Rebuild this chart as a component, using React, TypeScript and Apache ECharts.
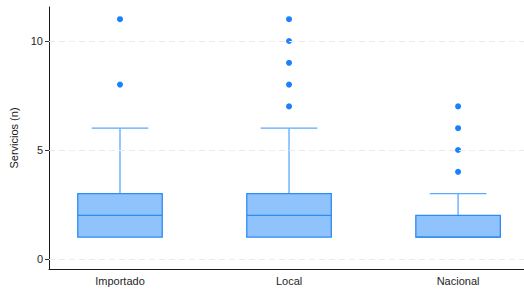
import React, { useEffect, useRef } from "react";
import * as echarts from "echarts";

const categories = ["Importado", "Local", "Nacional"];
const lowerWhisker = [1, 1, 1];
const q1 = [1, 1, 1];
const median = [2, 2, 1];
const q3 = [3, 3, 2];
const upperWhisker = [6, 6, 3];
const importadoOutliers = [8, 11];
const localOutliers = [7, 8, 9, 10, 11];
const nacionalOutliers = [4, 5, 6, 7];
const yTicks = [0, 5, 10];
const yAxisTitle = "Servicios (n)";

export default function App() {
  const ref = useRef<HTMLDivElement>(null);
  useEffect(() => {
    if (!ref.current) return;
    const chart = echarts.init(ref.current, null, { renderer: "svg" });
    const boxData = categories.map((_, i) => [
      i + 1,
      lowerWhisker[i],
      q1[i],
      median[i],
      q3[i],
      upperWhisker[i],
    ]);
    const outlierData: number[][] = [];
    [importadoOutliers, localOutliers, nacionalOutliers].forEach((arr, i) =>
      arr.forEach((v) => outlierData.push([i + 1, v]))
    );
    const font = "'Liberation Sans', Arial, sans-serif";
    chart.setOption({
      animation: false,
      backgroundColor: "#ffffff",
      grid: { left: 49, right: 0, top: 7, bottom: 22 },
      xAxis: {
        type: "value",
        min: 0.58,
        max: 3.39,
        axisLine: { show: true, onZero: false, lineStyle: { color: "#1a1a1a", width: 1 } },
        axisTick: { show: false },
        splitLine: { show: false },
        axisLabel: {
          customValues: [1, 2, 3],
          formatter: (v: number) => categories[Math.round(v) - 1] ?? "",
          color: "#262626",
          fontSize: 11,
          fontFamily: font,
          margin: 6,
        },
      },
      yAxis: {
        type: "value",
        min: -0.46,
        max: 11.56,
        name: yAxisTitle,
        nameLocation: "middle",
        nameGap: 28,
        nameTextStyle: { color: "#1a1a1a", fontSize: 11, fontFamily: font },
        axisLine: { show: true, onZero: false, lineStyle: { color: "#1a1a1a", width: 1 } },
        axisTick: { show: true, customValues: yTicks, length: 4, lineStyle: { color: "#333333" } },
        splitLine: { show: false },
        axisLabel: {
          customValues: yTicks,
          color: "#262626",
          fontSize: 11,
          fontFamily: font,
          margin: 6,
        },
      },
      series: [
        {
          type: "line",
          data: [],
          z: 1,
          silent: true,
          markLine: {
            silent: true,
            symbol: "none",
            label: { show: false },
            lineStyle: { color: "#ebebeb", type: [6, 4], width: 1, opacity: 1 },
            data: yTicks.map((v) => ({ yAxis: v })),
          },
        },
        {
          type: "custom",
          z: 2,
          data: boxData,
          renderItem: (params: any, api: any) => {
            const x = api.value(0);
            const lo = api.value(1);
            const b1 = api.value(2);
            const md = api.value(3);
            const b3 = api.value(4);
            const hi = api.value(5);
            const boxW = api.size([0.5, 0])[0];
            const capW = api.size([0.335, 0])[0];
            const pLo = api.coord([x, lo]);
            const p1 = api.coord([x, b1]);
            const pm = api.coord([x, md]);
            const p3 = api.coord([x, b3]);
            const pHi = api.coord([x, hi]);
            const whiskerStyle = { stroke: "#5aa8ff", lineWidth: 1.3 };
            const borderStyle = { stroke: "#2f8cf5", lineWidth: 1.3 };
            return {
              type: "group",
              children: [
                { type: "line", shape: { x1: p3[0], y1: p3[1], x2: pHi[0], y2: pHi[1] }, style: whiskerStyle },
                { type: "line", shape: { x1: pHi[0] - capW / 2, y1: pHi[1], x2: pHi[0] + capW / 2, y2: pHi[1] }, style: whiskerStyle },
                { type: "line", shape: { x1: p1[0], y1: p1[1], x2: pLo[0], y2: pLo[1] }, style: whiskerStyle },
                { type: "line", shape: { x1: pLo[0] - capW / 2, y1: pLo[1], x2: pLo[0] + capW / 2, y2: pLo[1] }, style: lo < b1 ? whiskerStyle : { stroke: "transparent" } },
                {
                  type: "rect",
                  shape: { x: p3[0] - boxW / 2, y: p3[1], width: boxW, height: p1[1] - p3[1] },
                  style: { fill: "#90c3fb", ...borderStyle },
                },
                { type: "line", shape: { x1: pm[0] - boxW / 2, y1: pm[1], x2: pm[0] + boxW / 2, y2: pm[1] }, style: borderStyle },
              ],
            };
          },
        },
        {
          type: "scatter",
          z: 3,
          data: outlierData,
          symbol: "circle",
          symbolSize: 6,
          itemStyle: { color: "#1a80ff", opacity: 1 },
        },
      ],
    });
    return () => chart.dispose();
  }, []);
  return (
    <div
      ref={ref}
      style={{ position: "fixed", left: 0, top: 0, width: 524, height: 291 }}
    />
  );
}
